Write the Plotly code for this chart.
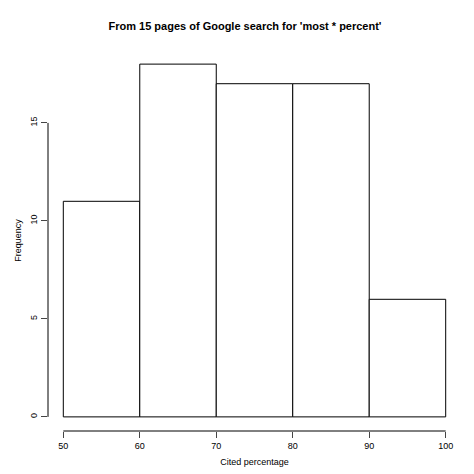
import plotly.graph_objects as go

bin_starts = [50, 60, 70, 80, 90]
counts = [11, 18, 17, 17, 6]
x_ticks = [50, 60, 70, 80, 90, 100]
y_ticks = [0, 5, 10, 15]

fig = go.Figure()
fig.add_trace(go.Bar(
    x=[b + 5 for b in bin_starts], y=counts, width=10,
    marker=dict(color="white", line=dict(color="black", width=1)),
))

# R-style detached axis lines
fig.add_shape(type="line", xref="x", yref="paper", x0=x_ticks[0], x1=x_ticks[-1], y0=0, y1=0,
              line=dict(color="black", width=1))
fig.add_shape(type="line", xref="paper", yref="y", x0=0, x1=0, y0=y_ticks[0], y1=y_ticks[-1],
              line=dict(color="black", width=1))

fig.update_layout(
    width=474, height=474,
    margin=dict(l=40, r=21, t=42, b=51),
    paper_bgcolor="white", plot_bgcolor="white",
    font=dict(family="Liberation Sans, Arial", size=9, color="black"),
    showlegend=False,
    title=dict(text="<b>From 15 pages of Google search for 'most * percent'</b>",
               x=0.5, xanchor="center", y=0.962, yanchor="middle", font=dict(size=11)),
    xaxis=dict(range=[48, 102], tickvals=x_ticks, ticks="outside", ticklen=6,
               showgrid=False, zeroline=False, showline=False, automargin=False,
               title=dict(text="Cited percentage", standoff=8, font=dict(size=9))),
    yaxis=dict(range=[-0.72, 18.72], tickvals=y_ticks, ticks="outside", ticklen=6,
               tickangle=-90, showgrid=False, zeroline=False, showline=False, automargin=False,
               title=dict(text="Frequency", standoff=6, font=dict(size=9))),
)
fig.write_html("out.html")
